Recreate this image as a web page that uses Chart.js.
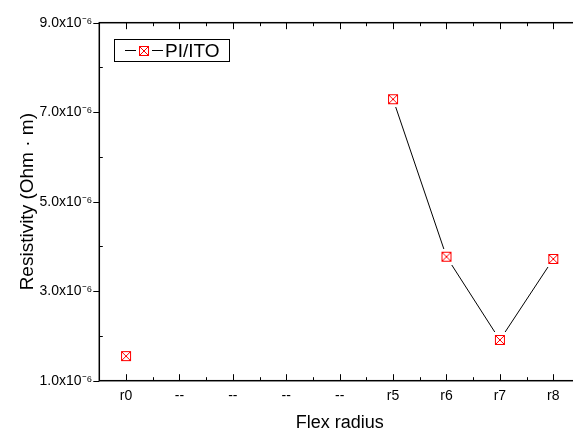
<!DOCTYPE html>
<html>
<head>
<meta charset="utf-8">
<script src="https://cdn.jsdelivr.net/npm/chart.js@4/dist/chart.umd.min.js"></script>
<style>
  html, body { margin: 0; padding: 0; overflow: hidden; background: #fff; }
  /* the plot runs past the right and bottom edges of the picture,
     so the canvas is a little bigger than the window and clipped */
  #wrap { position: relative; width: 573px; height: 429px; overflow: hidden; }
  #chart { display: block; width: 582px; height: 434px; }
</style>
</head>
<body>
<div id="wrap"><canvas id="chart" width="582" height="434"></canvas></div>
<script>
// Data
const radiusLabels = ["r0", "--", "--", "--", "--", "r5", "r6", "r7", "r8"];
const resistivity = [1.55e-6, null, null, null, null, 7.29e-6, 3.77e-6, 1.91e-6, 3.72e-6];
const yTickValues = [1e-6, 3e-6, 5e-6, 7e-6, 9e-6];
const yTickLabels = ["1.0x10⁻⁶", "3.0x10⁻⁶", "5.0x10⁻⁶", "7.0x10⁻⁶", "9.0x10⁻⁶"];
const seriesName = "PI/ITO";

const FONT = "'Liberation Sans', Arial, sans-serif";

/**
 * Red square with a cross in it, on a small white pad so the
 * connecting line stops just short of the marker.
 */
function makeMarker(size, pad) {
  const full = size + pad * 2;
  const c = document.createElement("canvas");
  c.width = full;
  c.height = full;
  const g = c.getContext("2d");
  g.fillStyle = "#fff";
  g.fillRect(0, 0, full, full);
  g.strokeStyle = "#ff0000";
  g.lineWidth = 1;
  const a = pad + 0.5, b = pad + size - 0.5;
  g.strokeRect(a, a, size - 1, size - 1);
  g.beginPath();
  g.moveTo(a, a); g.lineTo(b, b);
  g.moveTo(b, a); g.lineTo(a, b);
  g.stroke();
  return c;
}

const marker = makeMarker(10, 3);

function yLabelFor(value) {
  const i = yTickValues.findIndex(v => Math.abs(v - value) < 1e-12);
  return i >= 0 ? yTickLabels[i] : "";
}

// Draws the axis frame, the Origin-style ticks and the boxed legend.
const frameAndLegend = {
  id: "frameAndLegend",
  afterDraw: function (chart) {
    const ctx = chart.ctx;
    const area = chart.chartArea;
    const x = chart.scales.x;
    const y = chart.scales.y;

    ctx.save();
    ctx.strokeStyle = "#000";
    ctx.lineWidth = 1.5;
    ctx.strokeRect(area.left, area.top, area.right - area.left, area.bottom - area.top);

    ctx.lineWidth = 1;
    ctx.beginPath();
    // x ticks point inwards, on the bottom and the top axis
    for (let i = 0; i < radiusLabels.length; i++) {
      const px = Math.round(x.getPixelForValue(i)) + 0.5;
      ctx.moveTo(px, area.bottom); ctx.lineTo(px, area.bottom - 6.5);
      ctx.moveTo(px, area.top); ctx.lineTo(px, area.top + 6.5);
      if (i < radiusLabels.length - 1) {
        const mx = Math.round((x.getPixelForValue(i) + x.getPixelForValue(i + 1)) / 2) + 0.5;
        ctx.moveTo(mx, area.bottom); ctx.lineTo(mx, area.bottom - 3.5);
        ctx.moveTo(mx, area.top); ctx.lineTo(mx, area.top + 3.5);
      }
    }
    // y ticks: labelled ones outwards, the others inwards
    y.ticks.forEach(t => {
      const py = Math.round(y.getPixelForValue(t.value)) + 0.5;
      if (yLabelFor(t.value)) {
        ctx.moveTo(area.left, py); ctx.lineTo(area.left - 6, py);
      } else {
        ctx.moveTo(area.left, py); ctx.lineTo(area.left + 3.5, py);
      }
    });
    ctx.stroke();

    // legend box
    const bx = 114.5, by = 39.5, bw = 115, bh = 22;
    const ly = by + bh / 2;
    ctx.lineWidth = 1;
    ctx.strokeRect(bx, by, bw, bh);
    ctx.beginPath();
    ctx.moveTo(125, ly); ctx.lineTo(163, ly);
    ctx.stroke();
    ctx.drawImage(marker, 144 - marker.width / 2, Math.round(ly - marker.height / 2));
    ctx.fillStyle = "#000";
    ctx.font = "19px " + FONT;
    ctx.textBaseline = "middle";
    ctx.textAlign = "left";
    ctx.fillText(chart.data.datasets[0].label, 165, ly + 1);
    ctx.restore();
  }
};

new Chart(document.getElementById("chart"), {
  type: "line",
  data: {
    labels: radiusLabels,
    datasets: [{
      label: seriesName,
      data: resistivity,
      borderColor: "#000",
      borderWidth: 1,
      tension: 0,
      spanGaps: false,
      pointStyle: marker,
      pointRadius: 6,
      pointHoverRadius: 6
    }]
  },
  options: {
    responsive: false,
    animation: false,
    events: [],
    layout: {
      autoPadding: false,
      padding: { top: 22.7, right: 2, bottom: 0, left: 0 }
    },
    plugins: {
      legend: { display: false },
      tooltip: { enabled: false }
    },
    scales: {
      x: {
        type: "category",
        offset: true,
        grid: { display: false, drawTicks: false, tickLength: 0 },
        border: { display: false },
        ticks: {
          color: "#000",
          padding: 7,
          autoSkip: false,
          maxRotation: 0,
          font: { family: FONT, size: 14 }
        },
        title: {
          display: true,
          text: "Flex radius",
          color: "#000",
          padding: { top: 0, bottom: 0 },
          font: { family: FONT, size: 18 }
        },
        afterFit: scale => { scale.height = 53.3; }
      },
      y: {
        min: 1e-6,
        max: 9e-6,
        grid: { display: false, drawTicks: false, tickLength: 0 },
        border: { display: false },
        ticks: {
          stepSize: 1e-6,
          color: "#000",
          padding: 7,
          font: { family: FONT, size: 14 },
          callback: value => yLabelFor(value)
        },
        title: {
          display: true,
          text: "Resistivity (Ohm · m)",
          color: "#000",
          padding: { top: 16, bottom: 0 },
          font: { family: FONT, size: 19 }
        },
        afterFit: scale => { scale.width = 99.3; }
      }
    }
  },
  plugins: [frameAndLegend]
});
</script>
</body>
</html>
